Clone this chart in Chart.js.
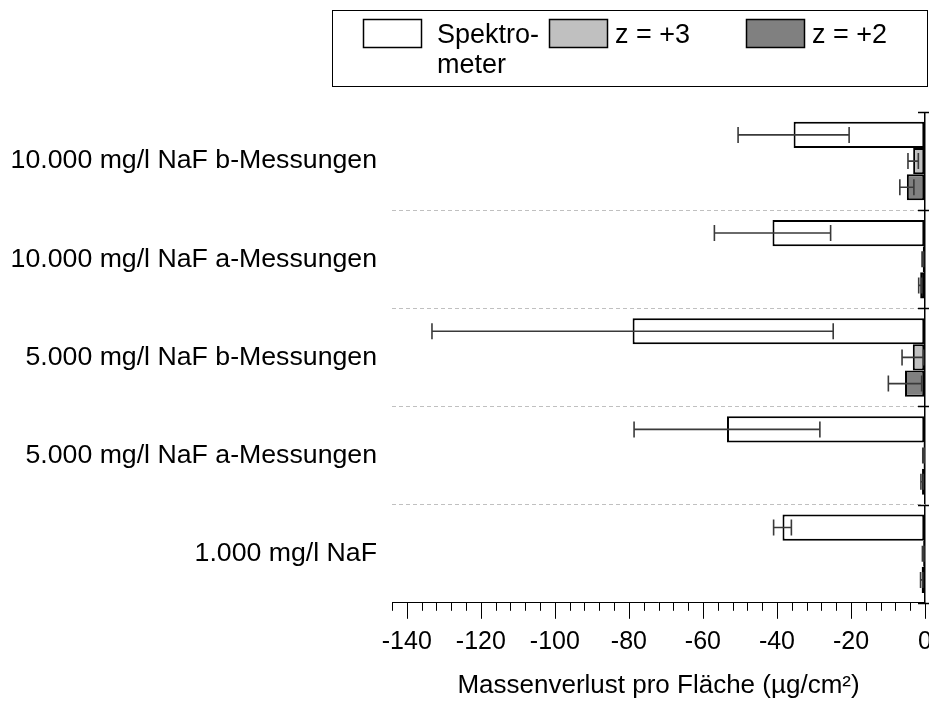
<!DOCTYPE html>
<html>
<head>
<meta charset="utf-8">
<script src="https://cdn.jsdelivr.net/npm/chart.js@4"></script>
<style>
  html, body { margin: 0; padding: 0; background: #fff; overflow: hidden; }
  #wrap { position: relative; width: 931px; height: 702px; }
</style>
</head>
<body>
<div id="wrap"><canvas id="chart"></canvas></div>
<script>
// categories, top to bottom
const categories = [
  "10.000 mg/l NaF b-Messungen",
  "10.000 mg/l NaF a-Messungen",
  "5.000 mg/l NaF b-Messungen",
  "5.000 mg/l NaF a-Messungen",
  "1.000 mg/l NaF"
];

// mass loss per area (µg/cm²) and standard deviations
const spektrometer    = [-35.5, -41.2, -79.0, -53.5, -38.5];
const spektrometerErr = [15.0, 15.7, 54.2, 25.1, 2.4];
const z3              = [-3.2, -0.6, -3.3, -0.4, -0.5];
const z3Err           = [1.4, 0.2, 2.9, 0.2, 0.2];
const z2              = [-4.9, -1.3, -5.4, -0.8, -0.9];
const z2Err           = [1.9, 0.4, 4.5, 0.3, 0.3];

const xMin = -144, xMax = 0, xStep = 4, xLabelEvery = 20;
const xTitle = "Massenverlust pro Fläche (µg/cm²)";
const legendItems = [
  { text: ["Spektro-", "meter"], color: "#ffffff" },
  { text: ["z = +3"], color: "#c0c0c0" },
  { text: ["z = +2"], color: "#808080" }
];

const FONT = "'Liberation Sans', Arial, sans-serif";
const errors = [spektrometerErr, z3Err, z2Err];

// error bars with end caps
const errorBars = {
  id: "errorBars",
  afterDatasetsDraw(chart) {
    const ctx = chart.ctx;
    const xs = chart.scales.x;
    ctx.save();
    ctx.strokeStyle = "#3a3a3a";
    ctx.lineWidth = 1.6;
    chart.data.datasets.forEach((ds, di) => {
      const meta = chart.getDatasetMeta(di);
      meta.data.forEach((bar, i) => {
        const v = ds.data[i], e = errors[di][i];
        const x1 = xs.getPixelForValue(v - e);
        const x2 = xs.getPixelForValue(v + e);
        const y = bar.y;
        const cap = 8;
        ctx.beginPath();
        ctx.moveTo(x1, y); ctx.lineTo(x2, y);
        ctx.moveTo(x1, y - cap); ctx.lineTo(x1, y + cap);
        ctx.moveTo(x2, y - cap); ctx.lineTo(x2, y + cap);
        ctx.stroke();
      });
    });
    ctx.restore();
  }
};

// major/minor ticks on the value axis, boundary ticks on the zero line
const axisTicks = {
  id: "axisTicks",
  afterDraw(chart) {
    const ctx = chart.ctx;
    const xs = chart.scales.x, ys = chart.scales.y;
    const area = chart.chartArea;
    ctx.save();
    ctx.strokeStyle = "#000";
    ctx.lineWidth = 1;
    xs.ticks.forEach(t => {
      const x = Math.round(xs.getPixelForValue(t.value)) + 0.5;
      const len = t.value % xLabelEvery === 0 ? 16 : 8;
      ctx.beginPath();
      ctx.moveTo(x, area.bottom);
      ctx.lineTo(x, area.bottom + len);
      ctx.stroke();
    });
    ctx.lineWidth = 1.5;
    for (let i = 0; i <= categories.length; i++) {
      const y = Math.round(ys.getPixelForValue(i - 0.5)) + 0.5;
      ctx.beginPath();
      ctx.moveTo(area.right - 7, y);
      ctx.lineTo(area.right + 6, y);
      ctx.stroke();
    }
    ctx.restore();
  }
};

// boxed legend above the plot
const boxLegend = {
  id: "boxLegend",
  afterDraw(chart) {
    const ctx = chart.ctx;
    ctx.save();
    ctx.strokeStyle = "#000";
    ctx.lineWidth = 1;
    ctx.strokeRect(332.5, 10.5, 595, 76);
    const swatchX = [363, 549, 746];
    const textX = [437, 615, 812];
    ctx.font = "27px " + FONT;
    ctx.textBaseline = "alphabetic";
    legendItems.forEach((item, i) => {
      ctx.fillStyle = item.color;
      ctx.fillRect(swatchX[i] + 0.5, 19.5, 58, 28);
      ctx.lineWidth = 1.5;
      ctx.strokeRect(swatchX[i] + 0.5, 19.5, 58, 28);
      ctx.fillStyle = "#000";
      item.text.forEach((line, j) => {
        ctx.fillText(line, textX[i], 43 + j * 30);
      });
    });
    ctx.restore();
  }
};

new Chart(document.getElementById("chart"), {
  type: "bar",
  data: {
    labels: categories,
    datasets: [
      { label: "Spektrometer", data: spektrometer, backgroundColor: "#ffffff" },
      { label: "z = +3", data: z3, backgroundColor: "#c0c0c0" },
      { label: "z = +2", data: z2, backgroundColor: "#808080" }
    ].map(d => Object.assign(d, {
      borderColor: "#000",
      borderWidth: 2,
      borderSkipped: false,
      barPercentage: 1.0,
      categoryPercentage: 0.8
    }))
  },
  options: {
    indexAxis: "y",
    responsive: true,
    maintainAspectRatio: false,
    animation: false,
    layout: { padding: { top: 112, left: 7, right: 0, bottom: 1 } },
    plugins: {
      legend: { display: false },
      tooltip: { enabled: false }
    },
    scales: {
      x: {
        min: xMin,
        max: xMax,
        afterFit: s => { s.paddingRight = 6; },
        border: { display: true, color: "#000", width: 1 },
        grid: {
          drawOnChartArea: true,
          drawTicks: true,
          tickLength: 16,
          tickColor: "rgba(0,0,0,0)",
          color: c => (c.tick && c.tick.value === 0 ? "#000" : "rgba(0,0,0,0)"),
          lineWidth: 1.5
        },
        ticks: {
          stepSize: xStep,
          autoSkip: false,
          maxRotation: 0,
          padding: 8,
          color: "#000",
          font: { family: FONT, size: 25 },
          callback: v => (v % xLabelEvery === 0 ? String(v) : "")
        },
        title: {
          display: true,
          text: xTitle,
          color: "#000",
          font: { family: FONT, size: 26 },
          padding: { top: 5, bottom: 0 }
        }
      },
      y: {
        offset: true,
        afterFit: s => { s.width = 385; },
        border: { display: false, dash: [4, 3] },
        grid: {
          offset: true,
          drawTicks: false,
          color: c => (c.index === 0 ? "rgba(0,0,0,0)" : "#c0c0c0"),
          lineWidth: 1
        },
        ticks: {
          padding: 15,
          color: "#000",
          font: { family: FONT, size: 26.7 }
        }
      }
    }
  },
  plugins: [errorBars, axisTicks, boxLegend]
});
</script>
</body>
</html>
